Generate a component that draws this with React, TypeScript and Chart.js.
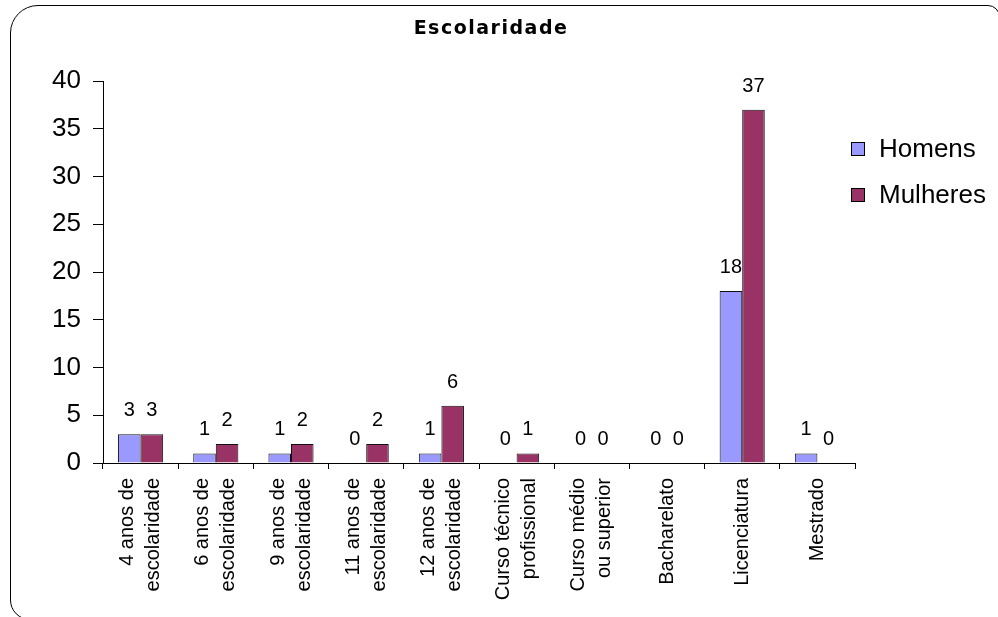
import React, { useEffect, useRef } from "react";
import { Chart, registerables } from "chart.js";

Chart.register(...registerables);

const TITLE = "Escolaridade";
const categories: string[][] = [
  ["4 anos de", "escolaridade"],
  ["6 anos de", "escolaridade"],
  ["9 anos de", "escolaridade"],
  ["11 anos de", "escolaridade"],
  ["12 anos de", "escolaridade"],
  ["Curso técnico", "profissional"],
  ["Curso médio", "ou superior"],
  ["Bacharelato"],
  ["Licenciatura"],
  ["Mestrado"],
];
const seriesNames = ["Homens", "Mulheres"];
const homens = [3, 1, 1, 0, 1, 0, 0, 0, 18, 1];
const mulheres = [3, 2, 2, 2, 6, 1, 0, 0, 37, 0];
const seriesColors = ["#9999FF", "#993366"];
const yMin = 0;
const yMax = 40;
const yStep = 5;

const FONT = '"Liberation Sans", Arial, sans-serif';

export default function App() {
  const ref = useRef<HTMLCanvasElement>(null);

  useEffect(() => {
    const canvas = ref.current!;
    const customPlugin = {
      id: "customText",
      afterDatasetsDraw(chart: any) {
        const ctx = chart.ctx;
        ctx.save();
        ctx.fillStyle = "#000";
        ctx.font = `20px ${FONT}`;
        ctx.textAlign = "center";
        ctx.textBaseline = "alphabetic";
        chart.data.datasets.forEach((ds: any, di: number) => {
          const meta = chart.getDatasetMeta(di);
          meta.data.forEach((el: any, i: number) => {
            ctx.fillText(String(ds.data[i]), el.x, el.y - 18);
          });
        });
        ctx.restore();
      },
      afterDraw(chart: any) {
        const ctx = chart.ctx;
        const xs = chart.scales.x;
        ctx.save();
        // category labels (rotated, multi-line centred)
        ctx.fillStyle = "#000";
        ctx.font = `20px ${FONT}`;
        ctx.textAlign = "right";
        ctx.textBaseline = "middle";
        const lh = 26;
        categories.forEach((lines, i) => {
          const x = xs.getPixelForValue(i);
          ctx.save();
          ctx.translate(x, xs.top + 15);
          ctx.rotate(-Math.PI / 2);
          lines.forEach((line, j) => {
            ctx.fillText(line, 0, (j - (lines.length - 1) / 2) * lh);
          });
          ctx.restore();
        });
        // title
        ctx.font = `bold 19px "DejaVu Sans", sans-serif`;
        (ctx as any).letterSpacing = "1.5px";
        ctx.textAlign = "center";
        ctx.textBaseline = "alphabetic";
        ctx.fillText(TITLE, 491, 34);
        (ctx as any).letterSpacing = "0px";
        // legend
        ctx.font = `26px ${FONT}`;
        ctx.textAlign = "left";
        ctx.textBaseline = "middle";
        const ca = chart.chartArea;
        chart.data.datasets.forEach((ds: any, k: number) => {
          const cy = ca.top + 68 + k * 46;
          const bx = ca.right - 3.5;
          ctx.fillStyle = ds.backgroundColor;
          ctx.fillRect(bx, cy - 6.5, 13, 13);
          ctx.strokeStyle = "#000";
          ctx.lineWidth = 1;
          ctx.strokeRect(bx, cy - 6.5, 13, 13);
          ctx.fillStyle = "#000";
          ctx.fillText(ds.label, bx + 27.5, cy + 1);
        });
        ctx.restore();
      },
    };

    const chart = new Chart(canvas, {
      type: "bar",
      data: {
        labels: categories.map((c) => c.join(" ")),
        datasets: [
          {
            label: seriesNames[0],
            data: homens,
            backgroundColor: seriesColors[0],
            borderColor: "#111",
            borderWidth: 1,
          },
          {
            label: seriesNames[1],
            data: mulheres,
            backgroundColor: seriesColors[1],
            borderColor: "#111",
            borderWidth: 1,
          },
        ],
      },
      options: {
        responsive: false,
        animation: false,
        events: [],
        layout: { padding: { top: 81, right: 143, bottom: 0, left: 0 } },
        datasets: { bar: { categoryPercentage: 0.6, barPercentage: 1 } },
        plugins: {
          legend: { display: false },
          title: { display: false },
          tooltip: { enabled: false },
        },
        scales: {
          x: {
            grid: {
              display: true,
              drawOnChartArea: false,
              drawTicks: true,
              tickLength: 6,
              color: "#000",
              offset: true,
            },
            border: { display: true, color: "#000" },
            ticks: { display: false, autoSkip: false },
            afterFit(s: any) {
              s.height = 154;
            },
          },
          y: {
            min: yMin,
            max: yMax,
            ticks: {
              stepSize: yStep,
              color: "#000",
              padding: 12,
              font: { family: FONT, size: 26 },
            },
            grid: {
              drawOnChartArea: false,
              drawTicks: true,
              tickLength: 10,
              color: "#000",
            },
            border: { display: true, color: "#000" },
            afterFit(s: any) {
              s.width = 103;
            },
          },
        },
      },
      plugins: [customPlugin],
    });
    return () => chart.destroy();
  }, []);

  return (
    <div
      style={{
        position: "fixed",
        left: 0,
        top: 0,
        width: 998,
        height: 617,
        overflow: "hidden",
        background: "#fff",
      }}
    >
      <div
        style={{
          position: "absolute",
          left: 10,
          top: 5,
          width: 990,
          height: 615,
          border: "1px solid #000",
          borderRadius: "28px 12px 0 20px",
          boxSizing: "border-box",
        }}
      />
      <canvas
        ref={ref}
        width={998}
        height={617}
        style={{ position: "absolute", left: 0, top: 0, display: "block" }}
      />
    </div>
  );
}
